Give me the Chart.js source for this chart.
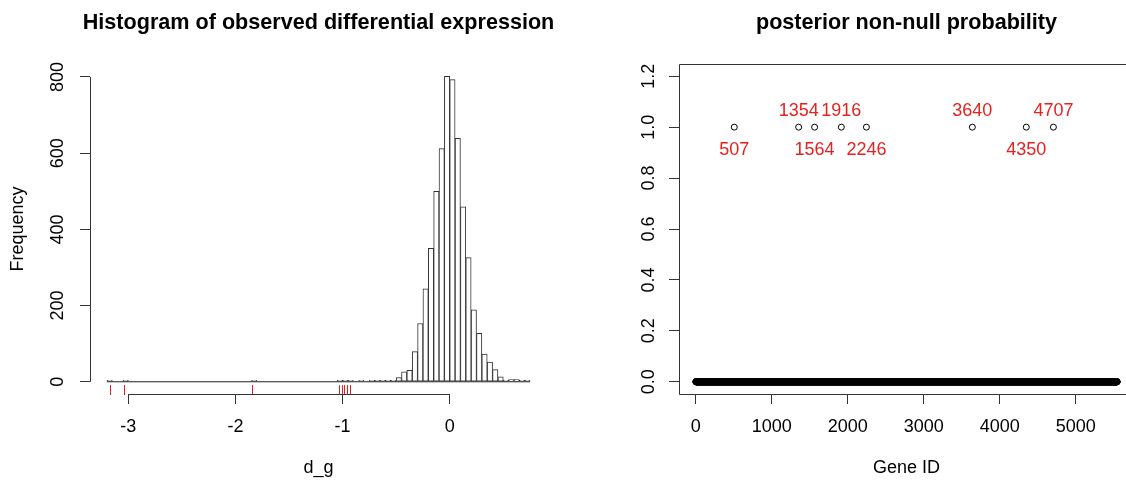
<!DOCTYPE html>
<html>
<head>
<meta charset="utf-8">
<script src="https://cdn.jsdelivr.net/npm/chart.js@4/dist/chart.umd.min.js"></script>
<style>
  html, body { margin: 0; padding: 0; background: #fff; overflow: hidden; width: 1126px; height: 481px; }
  #histChart { position: absolute; left: 0; top: 0; }
  #probChart { position: absolute; left: 563px; top: 0; }
</style>
</head>
<body>
<canvas id="histChart" width="563" height="481"></canvas>
<canvas id="probChart" width="600" height="481"></canvas>
<script>
// left panel: histogram of d_g, counts
const binStart = -3.2;
const binWidth = 0.05;
const binCounts = [
  1, 0, 0, 1, 0, 0, 0, 0, 0, 0,
  0, 0, 0, 0, 0, 0, 0, 0, 0, 0,
  0, 0, 0, 0, 0, 0, 0, 1, 0, 0,
  0, 0, 0, 0, 0, 0, 0, 0, 0, 0,
  0, 0, 0, 2, 2, 1, 0, 1, 0, 1,
  1, 1, 1, 1, 11, 26, 30, 79, 153, 244,
  350, 500, 612, 802, 793, 639, 459, 326, 189, 127,
  73, 52, 32, 13, 2, 6, 6, 2, 3
];
// d_g of the non-null genes (red rug)
const rugValues = [-3.168, -3.041, -1.845, -1.030, -1.006, -0.983, -0.960, -0.932];
const histXTicks = [-3, -2, -1, 0];
const histYTicks = [0, 200, 400, 600, 800];

// right panel: posterior non-null probability per gene
const nGenes = 5546;
const nonNullIds = [507, 1354, 1564, 1916, 2246, 3640, 4350, 4707];
const probXTicks = [0, 1000, 2000, 3000, 4000, 5000];
const probYTicks = [0, 0.2, 0.4, 0.6, 0.8, 1.0, 1.2];

const FONT = '"Liberation Sans", Arial, sans-serif';
const axisColor = '#333';
Chart.defaults.font.family = FONT;
Chart.defaults.font.size = 18;
Chart.defaults.color = '#000';

// R pads every axis range by 4%
function rRange(lo, hi) {
  const d = (hi - lo) * 0.04;
  return [lo - d, hi + d];
}

function axis(tickValues, range, fmt, extra) {
  return Object.assign({
    type: 'linear',
    min: range[0],
    max: range[1],
    offset: false,
    afterBuildTicks: s => { s.ticks = tickValues.map(v => ({ value: v })); },
    grid: { drawOnChartArea: false, drawTicks: true, tickLength: 10, color: axisColor, offset: false },
    border: { display: false },
    ticks: { autoSkip: false, callback: fmt, color: '#000' }
  }, extra);
}

// axis lines only between first and last tick, optional box, title over the plot region
const rPlot = {
  id: 'rPlot',
  afterDraw(chart, args, opts) {
    const ctx = chart.ctx;
    const area = chart.chartArea;
    const xs = chart.scales.x, ys = chart.scales.y;
    const left = Math.round(area.left) + 0.5;
    const bottom = Math.round(area.bottom) + 0.5;
    const top = Math.round(area.top) + 0.5;
    ctx.save();
    ctx.strokeStyle = axisColor;
    ctx.lineWidth = 1;
    ctx.beginPath();
    ctx.moveTo(xs.getPixelForValue(xs.ticks[0].value), bottom);
    ctx.lineTo(xs.getPixelForValue(xs.ticks[xs.ticks.length - 1].value), bottom);
    ctx.moveTo(left, ys.getPixelForValue(ys.ticks[0].value));
    ctx.lineTo(left, ys.getPixelForValue(ys.ticks[ys.ticks.length - 1].value));
    if (opts.box) ctx.rect(left, top, area.right - area.left, bottom - top);
    ctx.stroke();
    ctx.fillStyle = '#000';
    ctx.font = 'bold 21.6px ' + FONT;
    ctx.textAlign = 'center';
    ctx.fillText(opts.title, (area.left + area.right) / 2, 28.5);
    ctx.restore();
  }
};

const rug = {
  id: 'rug',
  afterDatasetsDraw(chart) {
    const { ctx, chartArea, scales: { x } } = chart;
    const len = (chartArea.bottom - chartArea.top) * 0.03;
    const base = chartArea.bottom + 1;
    ctx.save();
    ctx.strokeStyle = '#e02020';
    ctx.lineWidth = 1;
    ctx.beginPath();
    rugValues.forEach(v => {
      const px = Math.round(x.getPixelForValue(v)) + 0.5;
      ctx.moveTo(px, base);
      ctx.lineTo(px, base - len);
    });
    ctx.stroke();
    ctx.restore();
  }
};

const geneLabels = {
  id: 'geneLabels',
  afterDatasetsDraw(chart) {
    const { ctx, scales: { x, y } } = chart;
    ctx.save();
    ctx.fillStyle = '#e8211f';
    ctx.font = '18px ' + FONT;
    ctx.textAlign = 'center';
    nonNullIds.forEach((id, i) => {
      const px = x.getPixelForValue(id);
      const py = y.getPixelForValue(1);
      // labels alternate below / above the point
      ctx.fillText(String(id), px, i % 2 ? py - 11 : py + 28);
    });
    ctx.restore();
  }
};

// histogram
const binEnd = binStart + binCounts.length * binWidth;
const histBars = binCounts
  .map((c, i) => ({ x: binStart + (i + 0.5) * binWidth, y: c }))
  .filter(p => p.y > 0);

new Chart(document.getElementById('histChart'), {
  type: 'bar',
  data: {
    datasets: [{
      type: 'bar',
      data: histBars,
      backgroundColor: '#fff',
      borderColor: '#333',
      borderWidth: 1,
      borderSkipped: false,
      barPercentage: 1,
      categoryPercentage: 1,
      minBarLength: 1.5,
      order: 0
    }, {
      // empty bins drawn as a flat line, like R's zero-height rectangles
      type: 'line',
      data: [{ x: binStart, y: 0 }, { x: binEnd, y: 0 }],
      borderColor: '#222',
      borderWidth: 1,
      pointRadius: 0,
      order: 1
    }]
  },
  options: {
    responsive: false,
    animation: false,
    layout: { padding: { top: 64, left: 0, right: 16, bottom: 0 } },
    plugins: {
      legend: { display: false },
      tooltip: { enabled: false },
      rPlot: { title: 'Histogram of observed differential expression', box: false }
    },
    scales: {
      x: axis(histXTicks, rRange(binStart, binEnd), v => String(v), {
        afterFit: s => { s.height = 87; },
        title: { display: true, text: 'd_g', padding: { top: 0, bottom: 2 } }
      }),
      y: axis(histYTicks, rRange(0, Math.max(...binCounts)), v => String(v), {
        afterFit: s => { s.width = 90; },
        title: { display: true, text: 'Frequency', padding: { top: 7, bottom: 0 } }
      })
    }
  },
  plugins: [rPlot, rug]
});
Object.assign(Chart.getChart('histChart').options.scales.x.ticks, { padding: 12 });
Object.assign(Chart.getChart('histChart').options.scales.y.ticks, { padding: 7, minRotation: 90, maxRotation: 90, crossAlign: 'center' });
Chart.getChart('histChart').update();

// posterior probabilities: 1 for the non-null genes, 0 elsewhere
const probPoints = [];
for (let g = 1; g <= nGenes; g++) {
  probPoints.push({ x: g, y: nonNullIds.includes(g) ? 1 : 0 });
}

new Chart(document.getElementById('probChart'), {
  type: 'scatter',
  data: {
    datasets: [{
      data: probPoints,
      pointRadius: 3,
      pointBorderWidth: 1,
      borderColor: '#000',
      backgroundColor: 'rgba(0,0,0,0)'
    }]
  },
  options: {
    responsive: false,
    animation: false,
    layout: { padding: { top: 64, left: 0, right: 29, bottom: 0 } },
    plugins: {
      legend: { display: false },
      tooltip: { enabled: false },
      rPlot: { title: 'posterior non-null probability', box: true }
    },
    scales: {
      x: axis(probXTicks, rRange(1, nGenes), v => String(v), {
        afterFit: s => { s.height = 87; },
        title: { display: true, text: 'Gene ID', padding: { top: 0, bottom: 2 } }
      }),
      y: axis(probYTicks, rRange(0, 1.2), v => v.toFixed(1), {
        afterFit: s => { s.width = 116; }
      })
    }
  },
  plugins: [rPlot, geneLabels]
});
Object.assign(Chart.getChart('probChart').options.scales.x.ticks, { padding: 12 });
Object.assign(Chart.getChart('probChart').options.scales.y.ticks, { padding: 7, minRotation: 90, maxRotation: 90, crossAlign: 'center' });
Chart.getChart('probChart').update();
</script>
</body>
</html>
